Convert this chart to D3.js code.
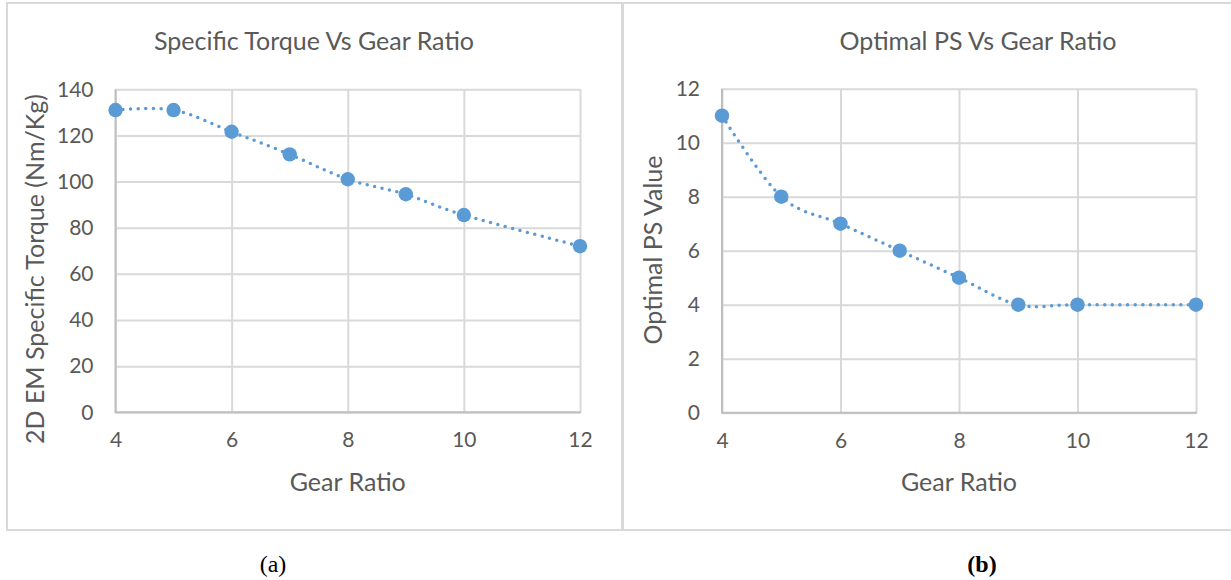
<!DOCTYPE html>
<html><head><meta charset="utf-8">
<script src="https://cdn.jsdelivr.net/npm/d3@7"></script>
<style>body{margin:0;background:#fff}svg{display:block}</style>
</head><body>
<svg id="c" width="1231" height="580"></svg>
<script>
// ---- data ----
const gearRatios = [4, 5, 6, 7, 8, 9, 10, 12];
const specificTorque = [131, 131, 121.6, 111.8, 101, 94.5, 85.5, 72];
const optimalPS = [11, 8, 7, 6, 5, 4, 4, 4];
const xTicks = [4, 6, 8, 10, 12];
const torqueTicks = [0, 20, 40, 60, 80, 100, 120, 140];
const psTicks = [0, 2, 4, 6, 8, 10, 12];
const titles = ["Specific Torque Vs Gear Ratio", "Optimal PS Vs Gear Ratio"];
const yTitles = ["2D EM Specific Torque (Nm/Kg)", "Optimal PS Value"];
const xTitle = "Gear Ratio";
const captions = ["(a)", "(b)"];

const svg = d3.select("#c");
const FONT = "Lato, 'Open Sans', sans-serif";
const TXT = "#595959", GRID = "#d9d9d9", AXIS = "#bfbfbf", BLUE = "#5b9bd5";

// frame lines
const frame = svg.append("g").attr("stroke", GRID).attr("fill", "none");
frame.append("line").attr("x1", 6).attr("x2", 1231).attr("y1", 3).attr("y2", 3).attr("stroke-width", 2);
frame.append("line").attr("x1", 6).attr("x2", 1231).attr("y1", 530).attr("y2", 530).attr("stroke-width", 2);
frame.append("line").attr("x1", 7).attr("x2", 7).attr("y1", 3).attr("y2", 530).attr("stroke-width", 2);
frame.append("line").attr("x1", 622.5).attr("x2", 622.5).attr("y1", 3).attr("y2", 530).attr("stroke-width", 3);

const panels = [
  {l: 115.5, r: 580, t: 89.3, b: 412.3, ydom: [0, 140], yt: torqueTicks, vals: specificTorque,
   title: titles[0], ytitle: yTitles[0], tx: 314, ytx: 35, yty: 269, cap: captions[0], capx: 273, bold: false},
  {l: 722, r: 1196, t: 88.7, b: 412.7, ydom: [0, 12], yt: psTicks, vals: optimalPS,
   title: titles[1], ytitle: yTitles[1], tx: 978, ytx: 653, yty: 250, cap: captions[1], capx: 982, bold: true}
];

panels.forEach(p => {
  const x = d3.scaleLinear().domain([4, 12]).range([p.l, p.r]);
  const y = d3.scaleLinear().domain(p.ydom).range([p.b, p.t]);
  const g = svg.append("g");

  // vertical gridlines + x tick labels
  const gx = g.append("g").attr("transform", `translate(0,${p.b})`)
    .call(d3.axisBottom(x).tickValues(xTicks).tickSize(-(p.b - p.t)).tickPadding(20).tickFormat(d3.format("d")));
  gx.select(".domain").remove();
  gx.selectAll(".tick line").attr("stroke", GRID).attr("stroke-width", 2);
  gx.selectAll(".tick text").attr("fill", TXT).attr("font-family", FONT).attr("font-size", 21).attr("dy", "0.71em").attr("y", 20);

  // horizontal gridlines + y tick labels
  const gy = g.append("g").attr("transform", `translate(${p.l},0)`)
    .call(d3.axisLeft(y).tickValues(p.yt).tickSize(-(p.r - p.l)).tickPadding(22).tickFormat(d3.format("d")));
  gy.select(".domain").remove();
  gy.selectAll(".tick line").attr("stroke", GRID).attr("stroke-width", 2);
  gy.selectAll(".tick text").attr("fill", TXT).attr("font-family", FONT).attr("font-size", 21);

  // axis lines
  g.append("line").attr("x1", p.l).attr("x2", p.l).attr("y1", p.t).attr("y2", p.b).attr("stroke", AXIS).attr("stroke-width", 2);
  g.append("line").attr("x1", p.l - 1).attr("x2", p.r + 1).attr("y1", p.b).attr("y2", p.b).attr("stroke", AXIS).attr("stroke-width", 2);

  // smoothed dotted line
  const pts = gearRatios.map((gr, i) => [gr, p.vals[i]]);
  const line = d3.line().x(d => x(d[0])).y(d => y(d[1])).curve(d3.curveCardinal.tension(0));
  g.append("path").attr("d", line(pts)).attr("fill", "none").attr("stroke", BLUE)
    .attr("stroke-width", 3.5).attr("stroke-linecap", "round").attr("stroke-dasharray", "0 7.6");

  g.selectAll("circle.m").data(pts).join("circle").attr("class", "m")
    .attr("cx", d => x(d[0])).attr("cy", d => y(d[1])).attr("r", 7.2).attr("fill", BLUE);

  // titles
  g.append("text").attr("x", p.tx).attr("y", 50).attr("text-anchor", "middle")
    .attr("font-family", FONT).attr("font-size", 25).attr("fill", TXT).text(p.title);
  g.append("text").attr("x", (p.l + p.r) / 2).attr("y", 491).attr("text-anchor", "middle")
    .attr("font-family", FONT).attr("font-size", 25).attr("fill", TXT).text(xTitle);
  g.append("text").attr("transform", `translate(${p.ytx},${p.yty}) rotate(-90)`).attr("text-anchor", "middle")
    .attr("dy", "0.35em").attr("font-family", FONT).attr("font-size", 25).attr("fill", TXT).text(p.ytitle);

  // caption
  svg.append("text").attr("x", p.capx).attr("y", 572).attr("text-anchor", "middle")
    .attr("font-family", "'Liberation Serif', 'Times New Roman', serif").attr("font-size", 24)
    .attr("font-weight", p.bold ? "bold" : "normal").attr("fill", "#000").text(p.cap);
});
</script>
</body></html>
